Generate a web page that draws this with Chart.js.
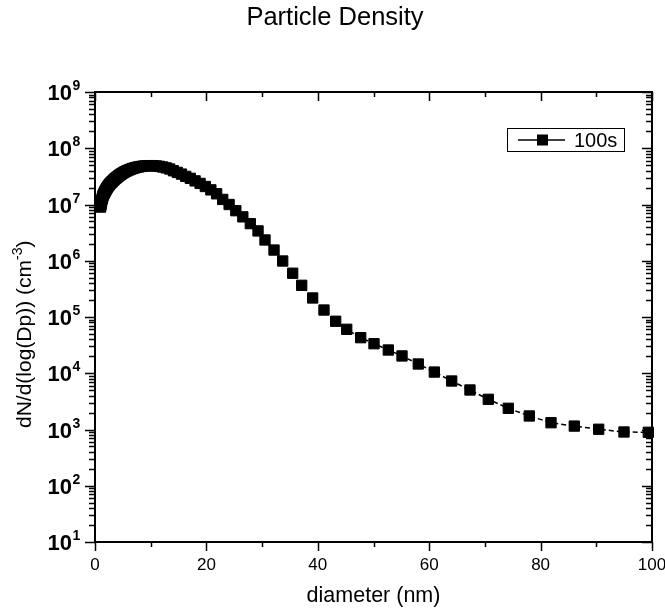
<!DOCTYPE html>
<html>
<head>
<meta charset="utf-8">
<title>Particle Density</title>
<script src="https://cdn.jsdelivr.net/npm/chart.js@4/dist/chart.umd.min.js"></script>
<style>
  html, body { margin: 0; padding: 0; background: #ffffff; }
  canvas { display: block; }
</style>
</head>
<body>
<canvas id="chart" width="665" height="613"></canvas>
<script>
// Size distribution at t = 100 s: mobility diameter (nm) and dN/d(log Dp) (cm^-3)
const diameters = [
  1.01, 1.06, 1.11, 1.17, 1.23, 1.29, 1.35, 1.42, 1.49, 1.57,
  1.65, 1.73, 1.81, 1.90, 2.00, 2.10, 2.20, 2.31, 2.43, 2.55,
  2.68, 2.81, 2.95, 3.10, 3.26, 3.42, 3.59, 3.77, 3.96, 4.16,
  4.37, 4.58, 4.81, 5.05, 5.31, 5.57, 5.85, 6.14, 6.45, 6.77,
  7.11, 7.47, 7.84, 8.23, 8.64, 9.07, 9.53, 10.00, 10.50, 11.03,
  11.58, 12.16, 12.77, 13.40, 14.08, 14.78, 15.52, 16.29, 17.11, 17.97,
  18.87, 19.81, 20.80, 21.84, 22.93, 24.08, 25.28, 26.54, 27.88, 29.27,
  30.52, 32.14, 33.70, 35.49, 37.11, 39.08, 41.11, 43.21, 45.19, 47.70,
  50.09, 52.66, 55.12, 58.04, 60.92, 64.04, 67.32, 70.61, 74.20, 77.97,
  81.87, 86.05, 90.43, 94.97, 99.34
];
const densities = [
  9.0e6, 9.8e6, 1.05e7, 1.12e7, 1.2e7, 1.27e7, 1.33e7, 1.41e7, 1.48e7, 1.54e7,
  1.6e7, 1.66e7, 1.71e7, 1.78e7, 1.86e7, 1.93e7, 2.0e7, 2.08e7, 2.16e7, 2.24e7,
  2.32e7, 2.4e7, 2.48e7, 2.56e7, 2.66e7, 2.76e7, 2.86e7, 2.96e7, 3.07e7, 3.18e7,
  3.3e7, 3.41e7, 3.54e7, 3.66e7, 3.79e7, 3.91e7, 4.02e7, 4.14e7, 4.26e7, 4.37e7,
  4.47e7, 4.57e7, 4.66e7, 4.74e7, 4.81e7, 4.86e7, 4.9e7, 4.91e7, 4.89e7, 4.84e7,
  4.76e7, 4.64e7, 4.48e7, 4.28e7, 3.98e7, 3.72e7, 3.47e7, 3.16e7, 2.92e7, 2.63e7,
  2.37e7, 2.09e7, 1.82e7, 1.55e7, 1.23e7, 1.0e7, 7.76e6, 6.03e6, 4.57e6, 3.39e6,
  2.34e6, 1.55e6, 9.9e5, 6.0e5, 3.66e5, 2.18e5, 1.33e5, 8.4e4, 6.04e4, 4.29e4,
  3.35e4, 2.59e4, 2.03e4, 1.46e4, 1.05e4, 7.28e3, 5.04e3, 3.44e3, 2.38e3, 1.74e3,
  1.32e3, 1.15e3, 1.01e3, 903, 892
];
const seriesLabel = '100s';
const xTickValues = [0, 20, 40, 60, 80, 100];
const yExponents = [1, 2, 3, 4, 5, 6, 7, 8, 9];

const chartTitle = 'Particle Density';
const xTitle = 'diameter (nm)';
const yTitleMain = 'dN/d(log(Dp)) (cm';
const yTitleSup = '-3';
const yTitleEnd = ')';

const FONT = '"Liberation Sans", Arial, Helvetica, sans-serif';

const points = diameters.map((d, i) => ({ x: d, y: densities[i] }));

// Boxed frame with outward ticks on the left/bottom and inward ticks on the right/top
const framePlugin = {
  id: 'frame',
  beforeDatasetsDraw(chart) {
    const { ctx, chartArea: a, scales: { x, y } } = chart;
    ctx.save();
    ctx.strokeStyle = '#000';
    ctx.lineWidth = 1.5;
    ctx.beginPath();
    for (let v = 0; v <= 100; v += 10) {
      const px = Math.round(x.getPixelForValue(v)) + 0.5;
      const len = v % 20 === 0 ? 9 : 5;
      ctx.moveTo(px, a.bottom); ctx.lineTo(px, a.bottom + len);
      ctx.moveTo(px, a.top); ctx.lineTo(px, a.top + len);
    }
    for (let e = 1; e <= 9; e++) {
      for (let m = 1; m <= 9; m++) {
        if (e === 9 && m > 1) break;
        const py = Math.round(y.getPixelForValue(m * Math.pow(10, e))) + 0.5;
        const len = m === 1 ? 10 : 6;
        ctx.moveTo(a.left, py); ctx.lineTo(a.left - len, py);
        ctx.moveTo(a.right, py); ctx.lineTo(a.right - len, py);
      }
    }
    ctx.stroke();
    ctx.lineWidth = 2;
    ctx.strokeRect(a.left, a.top, a.right - a.left, a.bottom - a.top);
    ctx.restore();
  },
  afterDraw(chart) {
    const { ctx, chartArea: a, scales: { y } } = chart;
    ctx.save();
    ctx.fillStyle = '#000';

    // title
    ctx.font = '25.5px ' + FONT;
    ctx.textAlign = 'center';
    ctx.textBaseline = 'alphabetic';
    ctx.fillText(chartTitle, 335, 25);

    // x axis title
    ctx.font = '21.5px ' + FONT;
    ctx.textBaseline = 'middle';
    ctx.fillText(xTitle, (a.left + a.right) / 2, 596);

    // y tick labels: 10 with superscript exponent
    yExponents.forEach(e => {
      const py = y.getPixelForValue(Math.pow(10, e));
      ctx.font = 'bold 22px ' + FONT;
      ctx.textAlign = 'right';
      ctx.textBaseline = 'middle';
      ctx.fillText('10', 72, py + 2);
      ctx.font = 'bold 14px ' + FONT;
      ctx.textAlign = 'left';
      ctx.textBaseline = 'alphabetic';
      ctx.fillText(String(e), 72.5, py - 2);
    });

    // y axis title (rotated, reading upward), with superscript unit exponent
    ctx.translate(31, 428);
    ctx.rotate(-Math.PI / 2);
    ctx.textAlign = 'left';
    ctx.textBaseline = 'alphabetic';
    ctx.font = '21px ' + FONT;
    ctx.fillText(yTitleMain, 0, 0);
    let sx = ctx.measureText(yTitleMain).width;
    ctx.font = '14px ' + FONT;
    ctx.fillText(yTitleSup, sx, -9);
    sx += ctx.measureText(yTitleSup).width;
    ctx.font = '21px ' + FONT;
    ctx.fillText(yTitleEnd, sx, 0);
    ctx.restore();

    // legend box
    ctx.save();
    const bx = 507, by = 128, bw = 117, bh = 23;
    ctx.strokeStyle = '#000';
    ctx.lineWidth = 1;
    ctx.strokeRect(bx + 0.5, by + 0.5, bw, bh);
    const ly = by + bh / 2 + 0.5;
    ctx.lineWidth = 1.5;
    ctx.beginPath();
    ctx.moveTo(bx + 11, ly); ctx.lineTo(bx + 58, ly);
    ctx.stroke();
    ctx.fillStyle = '#000';
    ctx.fillRect(bx + 30, ly - 5.5, 11, 11);
    ctx.font = '20px ' + FONT;
    ctx.textAlign = 'left';
    ctx.textBaseline = 'middle';
    ctx.fillText(seriesLabel, bx + 67, ly + 1);
    ctx.restore();
  }
};

new Chart(document.getElementById('chart'), {
  type: 'line',
  data: {
    datasets: [{
      label: seriesLabel,
      data: points,
      borderColor: '#000',
      borderWidth: 1.5,
      borderDash: [5, 3],
      backgroundColor: '#000',
      pointStyle: 'rect',
      pointRadius: 7.3,
      pointBorderWidth: 1,
      pointBorderColor: '#000',
      pointBackgroundColor: '#000',
      tension: 0,
      clip: false
    }]
  },
  options: {
    responsive: false,
    animation: false,
    devicePixelRatio: 1,
    layout: { padding: { top: 92, right: 13, left: 0, bottom: 0 } },
    plugins: {
      legend: { display: false },
      title: { display: false },
      tooltip: { enabled: false }
    },
    scales: {
      x: {
        type: 'linear',
        min: 0,
        max: 100,
        afterFit(scale) {
          scale.height = 71;
          scale.paddingLeft = 0;
          scale.paddingRight = 0;
        },
        afterBuildTicks(scale) { scale.ticks = xTickValues.map(v => ({ value: v })); },
        grid: { display: false, drawTicks: false },
        border: { display: false },
        ticks: {
          color: '#000',
          padding: 13,
          maxRotation: 0,
          autoSkip: false,
          font: { family: FONT, size: 17 }
        }
      },
      y: {
        type: 'logarithmic',
        min: 10,
        max: 1e9,
        afterFit(scale) { scale.width = 95; },
        grid: { display: false, drawTicks: false },
        border: { display: false },
        ticks: { display: false }
      }
    }
  },
  plugins: [framePlugin]
});
</script>
</body>
</html>
